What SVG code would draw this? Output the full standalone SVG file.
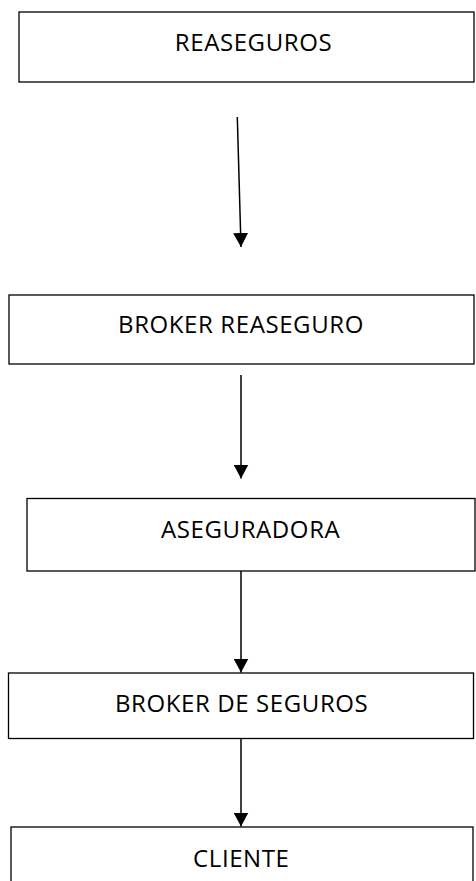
<svg xmlns="http://www.w3.org/2000/svg" width="476" height="881" viewBox="0 0 476 881">
<style>
.box{fill:#fff;stroke:#000;stroke-width:1.3}
.lbl{font-family:"Open Sans","Noto Sans",sans-serif;font-size:24px;letter-spacing:0.6px;fill:#000;text-anchor:middle}
.conn{stroke:#000;stroke-width:1.5;fill:none}
</style>
<defs>
<marker id="ah" viewBox="0 0 14 15" refX="14" refY="7.5" markerWidth="14" markerHeight="15" markerUnits="userSpaceOnUse" orient="auto">
<path d="M0,0 L14,7.5 L0,15 z" fill="#000"/>
</marker>
</defs>
<g id="reaseguros"><rect class="box" x="19" y="12" width="455" height="70"/><text class="lbl" x="253.5" y="50.5">REASEGUROS</text></g>
<g id="broker-reaseguro"><rect class="box" x="9" y="295" width="465" height="69"/><text class="lbl" x="241" y="333">BROKER REASEGURO</text></g>
<g id="aseguradora"><rect class="box" x="27" y="498.5" width="448" height="72.5"/><text class="lbl" x="250.7" y="538">ASEGURADORA</text></g>
<g id="broker-seguros"><rect class="box" x="8.5" y="673" width="465" height="65.5"/><text class="lbl" x="241.7" y="711.5">BROKER DE SEGUROS</text></g>
<g id="cliente"><rect class="box" x="11" y="827" width="462" height="60"/><text class="lbl" x="241.3" y="866.5">CLIENTE</text></g>
<g id="connectors">
<line class="conn" x1="237.3" y1="117" x2="241" y2="247" marker-end="url(#ah)"/>
<line class="conn" x1="241" y1="375" x2="241" y2="478.5" marker-end="url(#ah)"/>
<line class="conn" x1="241" y1="571" x2="241" y2="672.5" marker-end="url(#ah)"/>
<line class="conn" x1="241" y1="738.5" x2="241" y2="826.5" marker-end="url(#ah)"/>
</g>
</svg>
